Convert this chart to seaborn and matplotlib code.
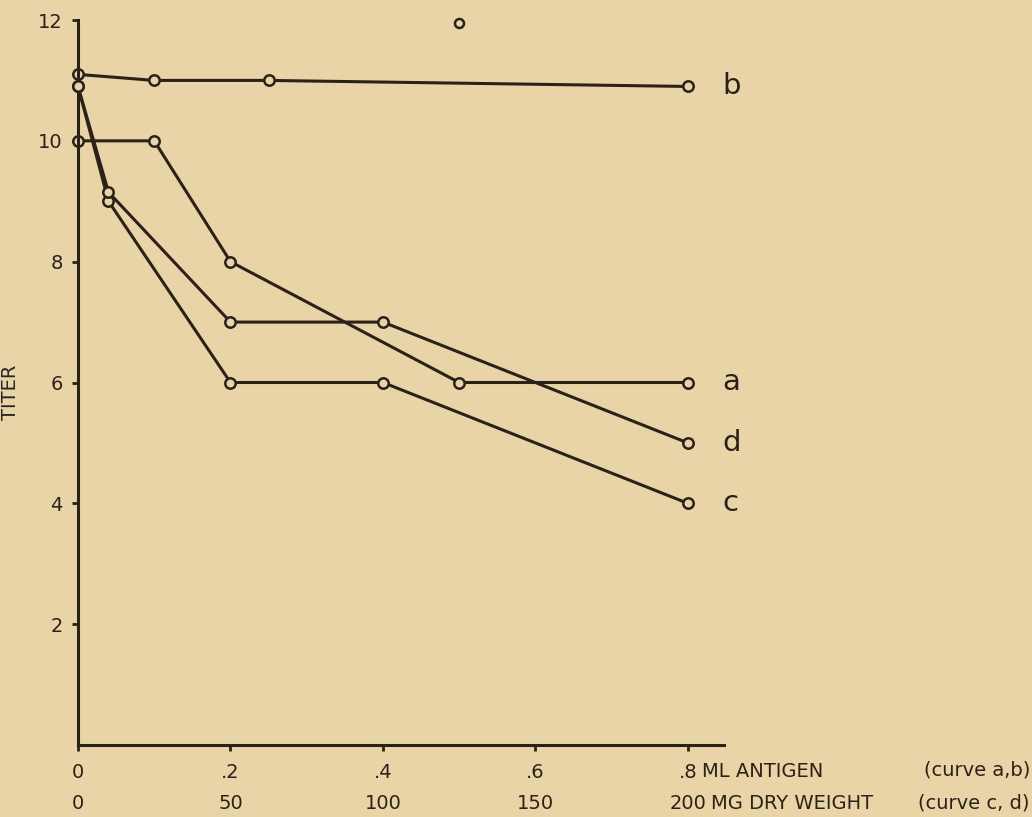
import pandas as pd
import matplotlib
matplotlib.use("Agg")
import matplotlib.pyplot as plt
import seaborn as sns

# Данные
ml_a = [0, 0.1, 0.2, 0.5, 0.8]
titer_a = [10, 10, 8, 6, 6]
ml_b = [0, 0.1, 0.25, 0.8]
titer_b = [11.1, 11.0, 11.0, 10.9]
mg_c = [0, 10, 50, 100, 200]
titer_c = [10.9, 9.0, 6, 6, 4]
mg_d = [0, 10, 50, 100, 200]
titer_d = [10.9, 9.15, 7, 7, 5]
ml_stray = [0.5]
titer_stray = [11.95]

ml_ticks = [0, 0.2, 0.4, 0.6, 0.8]
ml_ticklabels = ["0", ".2", ".4", ".6", ".8"]
mg_ticks = [0, 50, 100, 150, 200]
mg_ticklabels = ["0", "50", "100", "150", "200"]
titer_ticks = [2, 4, 6, 8, 10, 12]

bg = "#E8D4A7"
ink = "#2b2119"

sns.set_style("ticks", rc={"axes.facecolor": bg, "figure.facecolor": bg,
                           "axes.edgecolor": ink, "text.color": ink,
                           "xtick.color": ink, "ytick.color": ink})
plt.rcParams['font.family'] = ['DejaVu Sans']

fig = plt.figure(figsize=(10.32, 8.17), dpi=100)
ax = fig.add_axes([78 / 1032, 72 / 817, 648 / 1032, 725 / 817])
ax2 = ax.twiny()

line_kw = dict(color=ink, linewidth=2.2, marker="o", markersize=7.5,
               markerfacecolor=bg, markeredgecolor=ink, markeredgewidth=1.8,
               sort=False, estimator=None, legend=False)

curves_ml = {"a": (ml_a, titer_a), "b": (ml_b, titer_b)}
curves_mg = {"c": (mg_c, titer_c), "d": (mg_d, titer_d)}

for name, (x, y) in curves_ml.items():
    df = pd.DataFrame({"x": x, "y": y})
    sns.lineplot(data=df, x="x", y="y", ax=ax, clip_on=False, **line_kw)
    ax.annotate(name, xy=(x[-1], y[-1]), xytext=(25, 0), textcoords="offset points",
                ha="left", va="center", fontsize=21, color=ink)

for name, (x, y) in curves_mg.items():
    df = pd.DataFrame({"x": x, "y": y})
    sns.lineplot(data=df, x="x", y="y", ax=ax2, clip_on=False, **line_kw)
    ax2.annotate(name, xy=(x[-1], y[-1]), xytext=(25, 0), textcoords="offset points",
                 ha="left", va="center", fontsize=21, color=ink)

# одиночная точка вверху
ax.plot(ml_stray, titer_stray, linestyle="none", marker="o", markersize=6.5,
        markerfacecolor=bg, markeredgecolor=ink, markeredgewidth=1.8, clip_on=False)

ax.set_xlim(0, 0.85)
ax.set_ylim(0, 12)
ax2.set_xlim(0, 0.85 * 250)
ax2.set_ylim(0, 12)

for s in ["top", "right"]:
    ax.spines[s].set_visible(False)
for s in ax2.spines.values():
    s.set_visible(False)
ax.spines["left"].set_linewidth(2.2)
ax.spines["bottom"].set_linewidth(2.2)
ax.spines["bottom"].set_bounds(0, 0.847)

ax.set_xticks(ml_ticks)
ax.set_xticklabels(ml_ticklabels)
ax.set_yticks(titer_ticks)
ax.tick_params(axis="both", direction="out", length=4, width=2, labelsize=14)
ax.tick_params(axis="y", pad=7)
ax.tick_params(axis="x", pad=9)

ax2.xaxis.set_ticks_position("bottom")
ax2.xaxis.set_label_position("bottom")
ax2.set_xticks(mg_ticks)
ax2.set_xticklabels(mg_ticklabels)
ax2.tick_params(axis="x", length=0, labelsize=14, pad=35)

ax.set_xlabel("")
ax.set_ylabel("TITER", fontsize=14)
ax.yaxis.set_label_coords(-0.089, 0.487)
ax2.set_xlabel("")
ax2.set_ylabel("")

# подписи осей справа от последних меток
ax.annotate("ML ANTIGEN", xy=(0.8, 0), xycoords=("data", "axes fraction"),
            xytext=(10, -19), textcoords="offset points", ha="left", va="center", fontsize=14)
ax2.annotate("MG DRY WEIGHT", xy=(200, 0), xycoords=("data", "axes fraction"),
             xytext=(17, -42), textcoords="offset points", ha="left", va="center", fontsize=14)
fig.text(0.998, (817 - 770) / 817, "(curve a,b)", ha="right", va="center", fontsize=14)
fig.text(0.998, (817 - 803) / 817, "(curve c, d)", ha="right", va="center", fontsize=14)

fig.savefig("out.png", dpi=100, facecolor=bg)
